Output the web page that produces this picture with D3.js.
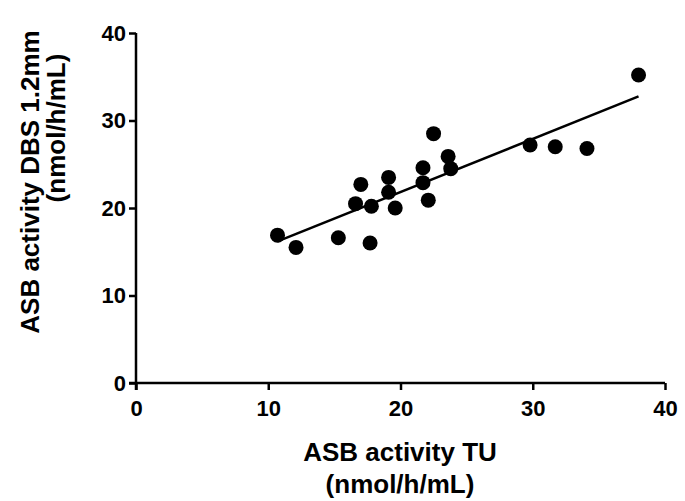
<!DOCTYPE html>
<html>
<head>
<meta charset="utf-8">
<script src="https://cdn.jsdelivr.net/npm/d3@7"></script>
<style>
  body { margin: 0; background: #fff; }
  text { font-family: "Liberation Sans", Arial, sans-serif; font-weight: bold; fill: #000; }
</style>
</head>
<body>
<div id="chart"></div>
<script>
// ASB activity, TU vs DBS 1.2mm (nmol/h/mL)
const tuValues = [10.7, 12.1, 15.3, 17.7, 16.6, 17.0, 17.8, 19.1, 19.1, 19.6,
                  21.7, 21.7, 22.1, 22.5, 23.6, 23.8, 29.8, 31.7, 34.1, 38.0];
const dbsValues = [16.9, 15.5, 16.6, 16.0, 20.5, 22.7, 20.2, 23.5, 21.8, 20.0,
                   24.6, 22.9, 20.9, 28.5, 25.9, 24.5, 27.2, 27.0, 26.8, 35.2];
const xTicks = [0, 10, 20, 30, 40];
const yTicks = [0, 10, 20, 30, 40];

let width = 685, height = 501;
let margin = { top: 33, right: 20, bottom: 118, left: 136 };

var svg = d3.select('#chart')
  .append('svg')
  .attr('width', width)
  .attr('height', height);

let x = d3.scaleLinear().domain([0, 40]).range([margin.left, 665]);
let y = d3.scaleLinear().domain([0, 40]).range([383, margin.top]);

let data = tuValues.map(function (v, i) {
  return { tu: v, dbs: dbsValues[i] };
});

// least squares fit, drawn over the range of the data
let mx = d3.mean(tuValues), my = d3.mean(dbsValues);
let sxy = d3.sum(data, d => (d.tu - mx) * (d.dbs - my));
let sxx = d3.sum(data, d => (d.tu - mx) * (d.tu - mx));
let slope = sxy / sxx, intercept = my - slope * mx;
let xExt = d3.extent(tuValues);

// axes
let xAxis = svg.append('g')
  .attr('transform', 'translate(0,' + y(0) + ')')
  .call(d3.axisBottom(x).tickValues(xTicks).tickSize(7).tickPadding(10).tickSizeOuter(0));
let yAxis = svg.append('g')
  .attr('transform', 'translate(' + x(0) + ',0)')
  .call(d3.axisLeft(y).tickValues(yTicks).tickSize(7).tickPadding(3).tickSizeOuter(0));

[xAxis, yAxis].forEach(function (g) {
  g.select('.domain').attr('stroke', '#000').attr('stroke-width', 2.5);
  g.selectAll('.tick line').attr('stroke', '#000').attr('stroke-width', 2.5);
  g.selectAll('.tick text').style('font-size', '22px').attr('fill', '#000');
});
// let the axes cross at the origin
xAxis.select('.domain').attr('d', 'M' + (x(0) - 7) + ',0H' + x(40));
yAxis.select('.domain').attr('d', 'M0,' + (y(0) + 7) + 'V' + y(40));

// regression line
svg.append('path')
  .attr('d', d3.line()([[x(xExt[0]), y(intercept + slope * xExt[0])],
                       [x(xExt[1]), y(intercept + slope * xExt[1])]]))
  .attr('stroke', '#000')
  .attr('stroke-width', 2.5)
  .attr('fill', 'none');

// points
svg.selectAll('circle')
  .data(data)
  .enter()
  .append('circle')
  .attr('cx', d => x(d.tu))
  .attr('cy', d => y(d.dbs))
  .attr('r', 7.5)
  .attr('fill', '#000');

// axis titles
svg.append('text')
  .attr('x', 400).attr('y', 461)
  .attr('text-anchor', 'middle')
  .style('font-size', '26px')
  .text('ASB activity TU');
svg.append('text')
  .attr('x', 400).attr('y', 493)
  .attr('text-anchor', 'middle')
  .style('font-size', '26px')
  .text('(nmol/h/mL)');

svg.append('text')
  .attr('transform', 'translate(39,182) rotate(-90)')
  .attr('text-anchor', 'middle')
  .style('font-size', '26px')
  .text('ASB activity DBS 1.2mm');
svg.append('text')
  .attr('transform', 'translate(65,128) rotate(-90)')
  .attr('text-anchor', 'middle')
  .style('font-size', '26px')
  .text('(nmol/h/mL)');
</script>
</body>
</html>
